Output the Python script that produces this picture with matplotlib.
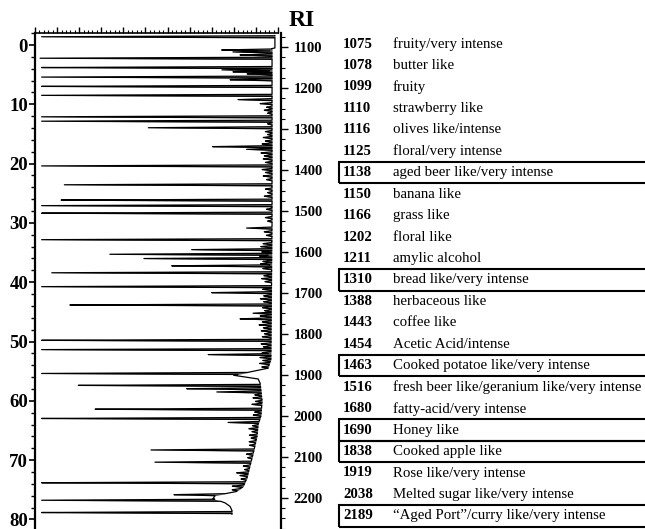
import numpy as np
import matplotlib
matplotlib.use("Agg")
import matplotlib.pyplot as plt
from matplotlib.patches import Rectangle
from matplotlib.ticker import MultipleLocator

plt.rcParams['font.family'] = ['Liberation Serif', 'DejaVu Serif']

# ---------------- data ----------------
# large olfactometric peaks: retention time (min) and tip intensity (arbitrary units, 0 = right edge)
peak_time = [-1.39, 0.84, 1.17, 1.68, 2.23, 3.80, 4.19, 4.52, 4.86, 5.41, 5.86, 6.98, 8.49,
             9.21, 9.88, 12.11, 12.85, 13.95, 17.14, 17.59, 20.39, 23.57, 26.16, 27.09,
             28.36, 30.87, 32.83, 34.51, 35.29, 36.01, 37.24, 38.41, 40.75, 41.76, 43.84,
             45.23, 46.18, 49.80, 51.37, 52.21, 55.39, 57.40, 57.96, 58.51, 61.42, 62.98,
             63.65, 68.29, 70.35, 72.14, 73.82, 75.83, 76.77, 78.84]
peak_tip = [107.0, 25.5, 20.4, 17.2, 107.7, 107.0, 25.4, 20.4, 14.0, 107.0, 21.7, 107.0, 107.0,
            18.1, 8.1, 107.0, 107.0, 58.7, 29.6, 14.2, 107.0, 96.7, 98.2, 107.0,
            107.0, 14.2, 107.0, 39.1, 76.1, 60.7, 48.1, 102.4, 107.0, 30.0, 94.2,
            11.3, 17.2, 107.0, 107.0, 31.6, 107.0, 90.4, 41.3, 27.7, 82.8, 107.0,
            22.6, 57.5, 55.7, 18.7, 107.0, 47.1, 107.0, 107.0]

# small baseline peaks: time (min) and height above baseline
small_time = [10.5, 11.0, 11.5, 13.3, 14.6, 15.1, 15.6, 16.2, 16.7, 18.2, 18.7, 19.2, 19.8,
              21.0, 21.5, 22.1, 22.7, 24.3, 24.9, 25.5, 27.7, 29.1, 29.7, 31.5, 32.1, 33.5,
              34.0, 34.9, 35.6, 36.5, 36.9, 37.7, 38.9, 39.4, 39.9, 41.2, 42.3, 42.8, 43.3,
              44.3, 44.8, 45.7, 46.7, 47.2, 47.7, 48.2, 48.7, 49.2, 50.4, 50.9, 51.9, 52.7,
              53.2, 53.7, 54.3, 59.0, 59.5, 60.1, 60.6, 61.9, 62.4, 64.2, 64.7, 65.2, 65.8,
              66.3, 66.9, 67.5, 69.0, 69.6, 71.0, 71.6, 72.6, 73.2, 74.4, 75.0]
small_height = [2.5, 3.5, 2.0, 2.0, 3.0, 2.0, 4.0, 3.0, 4.5, 5.0, 3.5, 4.0, 3.0,
                4.5, 3.0, 4.0, 2.5, 3.0, 2.0, 3.5, 2.5, 3.0, 2.0, 3.5, 2.5, 4.0,
                5.0, 4.5, 5.5, 4.0, 5.0, 4.0, 3.5, 4.5, 3.0, 4.0, 3.5, 5.0, 3.5,
                4.0, 3.0, 5.0, 4.0, 5.5, 3.5, 4.5, 3.0, 4.0, 4.5, 3.5, 4.0, 5.0,
                3.5, 4.5, 3.0, 3.0, 4.0, 3.0, 4.5, 3.0, 3.5, 2.5, 4.0, 2.5, 3.5,
                2.5, 3.0, 2.5, 3.0, 2.0, 3.0, 2.0, 3.5, 2.5, 5.0, 3.0]

# baseline of the trace (time, intensity)
base_time = [-1.6, 0.5, 0.6, 30.0, 53.0, 54.5, 55.7, 56.3, 57.0, 60.0, 62.5, 64.0, 66.0,
             69.0, 71.0, 73.0, 74.5, 75.3, 76.0, 76.5, 77.2, 77.8, 78.5, 79.1]
base_val = [1.4, 1.4, 2.7, 2.7, 3.2, 4.5, 20.0, 9.0, 8.1, 7.2, 7.7, 9.0, 9.5,
            11.3, 12.7, 14.0, 15.8, 18.9, 28.5, 29.4, 24.0, 21.7, 20.8, 20.8]

ri_ticks = [1100, 1200, 1300, 1400, 1500, 1600, 1700, 1800, 1900, 2000, 2100, 2200]

table_ri = ["1075", "1078", "1099", "1110", "1116", "1125", "1138", "1150", "1166", "1202",
            "1211", "1310", "1388", "1443", "1454", "1463", "1516", "1680", "1690", "1838",
            "1919", "2038", "2189"]
table_desc = ["fruity/very intense", "butter like", "fruity", "strawberry like",
              "olives like/intense", "floral/very intense", "aged beer like/very intense",
              "banana like", "grass like", "floral like", "amylic alcohol",
              "bread like/very intense", "herbaceous like", "coffee like",
              "Acetic Acid/intense", "Cooked potatoe like/very intense",
              "fresh beer like/geranium like/very intense", "fatty-acid/very intense",
              "Honey like", "Cooked apple like", "Rose like/very intense",
              "Melted sugar like/very intense", "\u201cAged Port\u201d/curry like/very intense"]
table_boxed = ["1138", "1310", "1463", "1690", "1838", "2189"]

# ---------------- figure ----------------
W, H = 645, 529
fig = plt.figure(figsize=(W / 100, H / 100), dpi=100)

def fx(x):
    return x / W

def fy(y):
    return 1 - y / H

# chromatogram axes: pixel mapping y = 45 + 5.93 t
slope = 5.93
t_top = (33 - 45) / slope
t_bot = (529 - 45) / slope
ax = fig.add_axes([fx(35), 0, fx(278) - fx(35), fy(33)])
ax.set_ylim(t_bot, t_top)
ax.set_xlim(110, 0)

w_big, w_small = 0.17, 0.2
grid = [np.arange(base_time[0], base_time[-1], 0.02), np.array(base_time)]
for t in peak_time:
    grid.append(np.array([t - w_big, t, t + w_big]))
for t in small_time:
    grid.append(np.array([t - w_small, t, t + w_small]))
tt = np.unique(np.concatenate(grid))
tt = tt[(tt >= base_time[0]) & (tt <= base_time[-1])]
base = np.interp(tt, base_time, base_val)
sig = base.copy()
for t, tip in zip(peak_time, peak_tip):
    b = np.interp(t, base_time, base_val)
    tri = np.clip(1 - np.abs(tt - t) / w_big, 0, None) * (tip - b)
    sig = np.maximum(sig, base + tri)
for t, h in zip(small_time, small_height):
    tri = np.clip(1 - np.abs(tt - t) / w_small, 0, None) * h
    sig = np.maximum(sig, base + tri)

ax.fill_betweenx(tt, base, sig, color='#5a5a5a', lw=0)
ax.plot(sig, tt, color='black', lw=0.9)

for s in ['right', 'bottom']:
    ax.spines[s].set_visible(False)
ax.spines['left'].set_linewidth(1.6)
ax.spines['top'].set_linewidth(1.2)
ax.xaxis.tick_top()
ax.xaxis.set_major_locator(MultipleLocator(10))
ax.xaxis.set_minor_locator(MultipleLocator(2))
ax.tick_params(axis='x', which='major', direction='out', length=4, width=1, labeltop=False)
ax.tick_params(axis='x', which='minor', direction='out', length=2, width=0.8)
ax.yaxis.set_major_locator(MultipleLocator(10))
ax.yaxis.set_minor_locator(MultipleLocator(2))
ax.tick_params(axis='y', which='major', direction='out', length=4, width=1.2, pad=1,
               labelsize=13.5)
ax.tick_params(axis='y', which='minor', direction='out', length=3, width=1)
ax.set_yticks(range(0, 81, 10))
ax.set_ylim(t_bot, t_top)
for lab in ax.get_yticklabels():
    lab.set_fontweight('bold')
ax.patch.set_alpha(0)

# RI axis: pixel mapping y = 47 + 0.41 (RI - 1100)
ri_top = 1100 + (33 - 47) / 0.41
ri_bot = 1100 + (529 - 47) / 0.41
ax2 = fig.add_axes([fx(200), 0, fx(281) - fx(200), fy(33)])
ax2.patch.set_alpha(0)
ax2.set_ylim(ri_bot, ri_top)
for s in ['left', 'top', 'bottom']:
    ax2.spines[s].set_visible(False)
ax2.spines['right'].set_linewidth(1.6)
ax2.set_xticks([])
ax2.yaxis.tick_right()
ax2.set_yticks(ri_ticks)
ax2.yaxis.set_minor_locator(MultipleLocator(25))
ax2.tick_params(axis='y', which='major', direction='out', length=5, width=1, pad=4,
                labelsize=10.5)
ax2.tick_params(axis='y', which='minor', direction='out', length=3, width=0.8)
ax2.set_ylim(ri_bot, ri_top)
for lab in ax2.get_yticklabels():
    lab.set_fontweight('bold')

fig.text(fx(289), fy(20), "RI", fontsize=17, fontweight='bold', ha='left', va='center')

# table
row0, drow = 44, 21.45
for i, (ri, desc) in enumerate(zip(table_ri, table_desc)):
    yc = row0 + i * drow
    fig.text(fx(343), fy(yc), ri, fontsize=10.7, fontweight='bold', ha='left', va='center')
    fig.text(fx(393), fy(yc), desc, fontsize=10.7, ha='left', va='center')
    if ri in table_boxed:
        fig.patches.append(Rectangle((fx(339), fy(yc + drow / 2)), fx(340), drow / H,
                                     transform=fig.transFigure, fill=False,
                                     edgecolor='black', lw=1.5))

fig.savefig("out.png", dpi=100)
